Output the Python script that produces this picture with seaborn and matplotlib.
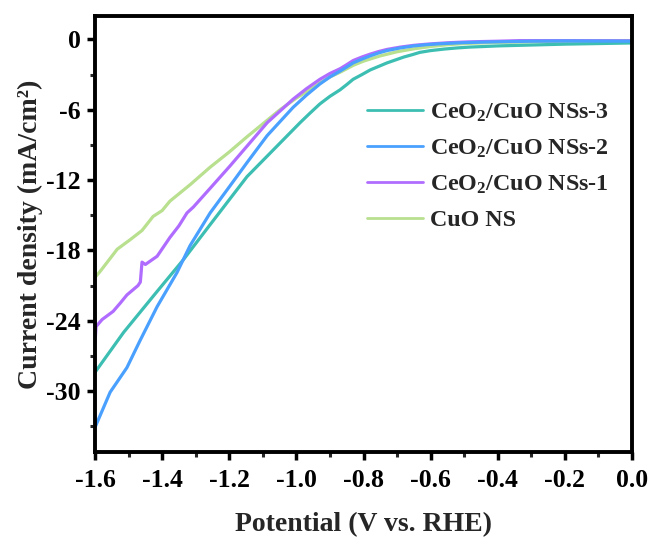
import numpy as np
import pandas as pd
import matplotlib
matplotlib.use("Agg")
import matplotlib.pyplot as plt
import seaborn as sns
from matplotlib.ticker import MultipleLocator

# ---- data ----
cuo_v = [-1.600, -1.585, -1.550, -1.534, -1.496, -1.460, -1.427, -1.400, -1.377, -1.347,
         -1.317, -1.257, -1.200, -1.147, -1.100, -1.049, -1.000, -0.950, -0.930, -0.900,
         -0.870, -0.830, -0.800, -0.750, -0.700, -0.650, -0.600, -0.550, -0.500, -0.400,
         -0.300, -0.200, -0.100, 0.000]
cuo_j = [-20.3, -19.8, -18.5, -17.9, -17.1, -16.3, -15.1, -14.6, -13.8, -13.1,
         -12.4, -10.9, -9.6, -8.3, -7.2, -6.0, -5.0, -4.1, -3.7, -3.2,
         -2.8, -2.2, -1.85, -1.4, -1.05, -0.8, -0.6, -0.45, -0.35, -0.25,
         -0.2, -0.15, -0.12, -0.1]

ns1_v = [-1.600, -1.597, -1.579, -1.546, -1.525, -1.505, -1.472, -1.465, -1.460, -1.450,
         -1.415, -1.377, -1.350, -1.326, -1.307, -1.257, -1.198, -1.147, -1.087, -1.010,
         -0.970, -0.930, -0.900, -0.870, -0.850, -0.831, -0.805, -0.780, -0.755, -0.730,
         -0.690, -0.650, -0.615, -0.581, -0.540, -0.500, -0.450, -0.400, -0.334, -0.200,
         0.000]
ns1_j = [-25.9, -24.5, -23.9, -23.2, -22.5, -21.8, -21.0, -20.7, -19.0, -19.2,
         -18.5, -16.9, -15.9, -14.8, -14.3, -12.7, -10.8, -9.1, -7.1, -5.1,
         -4.2, -3.4, -2.9, -2.5, -2.15, -1.8, -1.5, -1.25, -1.03, -0.85,
         -0.65, -0.5, -0.41, -0.34, -0.27, -0.22, -0.18, -0.15, -0.1, -0.1,
         -0.12]

ns2_v = [-1.600, -1.555, -1.505, -1.466, -1.415, -1.356, -1.317, -1.257, -1.198, -1.147,
         -1.087, -1.010, -0.970, -0.930, -0.900, -0.870, -0.850, -0.831, -0.805, -0.780,
         -0.755, -0.730, -0.690, -0.650, -0.615, -0.580, -0.540, -0.500, -0.450, -0.400,
         -0.300, -0.200, 0.000]
ns2_j = [-33.1, -30.1, -28.0, -25.7, -22.8, -19.9, -17.6, -14.8, -12.5, -10.5,
         -8.2, -5.8, -4.75, -3.8, -3.2, -2.7, -2.35, -2.0, -1.68, -1.4,
         -1.15, -0.95, -0.72, -0.55, -0.45, -0.38, -0.32, -0.27, -0.23, -0.2,
         -0.15, -0.13, -0.15]

ns3_v = [-1.600, -1.515, -1.415, -1.337, -1.257, -1.198, -1.147, -1.068, -0.989, -0.960,
         -0.930, -0.900, -0.870, -0.850, -0.831, -0.805, -0.780, -0.755, -0.730, -0.705,
         -0.680, -0.655, -0.632, -0.600, -0.560, -0.520, -0.483, -0.440, -0.400, -0.334,
         -0.200, -0.100, 0.000]
ns3_j = [-28.4, -25.0, -21.5, -18.8, -15.8, -13.6, -11.7, -9.4, -7.1, -6.3,
         -5.5, -4.85, -4.3, -3.85, -3.4, -3.0, -2.6, -2.3, -2.0, -1.75,
         -1.5, -1.3, -1.1, -0.95, -0.82, -0.72, -0.65, -0.6, -0.55, -0.5,
         -0.4, -0.35, -0.3]

labels = ["CuO NS", "CeO$_2$/CuO NSs-1", "CeO$_2$/CuO NSs-2", "CeO$_2$/CuO NSs-3"]
colors = ["#b8e08e", "#b06cff", "#4aa0ff", "#3cbfb2"]
series = [(cuo_v, cuo_j), (ns1_v, ns1_j), (ns2_v, ns2_j), (ns3_v, ns3_j)]

frames = []
for lab, (v, j) in zip(labels, series):
    frames.append(pd.DataFrame({"Potential": v, "Current": j, "Sample": lab}))
df = pd.concat(frames, ignore_index=True)

# ---- style ----
sns.set_theme(style="ticks")
plt.rcParams["font.family"] = ["Liberation Serif", "DejaVu Serif"]
plt.rcParams["font.weight"] = "bold"
plt.rcParams["axes.unicode_minus"] = False
plt.rcParams["mathtext.fontset"] = "custom"
plt.rcParams["mathtext.rm"] = "Liberation Serif:bold"
plt.rcParams["mathtext.bf"] = "Liberation Serif:bold"
plt.rcParams["mathtext.it"] = "Liberation Serif:bold"
plt.rcParams["mathtext.default"] = "bf"

fig = plt.figure(figsize=(6.54, 5.43), dpi=100)
ax = fig.add_axes([0.1453, 0.1676, 0.8211, 0.8029])

draw_order = ["CuO NS", "CeO$_2$/CuO NSs-1", "CeO$_2$/CuO NSs-3", "CeO$_2$/CuO NSs-2"]
pal = dict(zip(labels, colors))
sns.lineplot(data=df, x="Potential", y="Current", hue="Sample", hue_order=draw_order,
             palette=pal, estimator=None, sort=False, linewidth=2.3, ax=ax, legend=False)

ax.set_xlim(-1.6, 0.0)
ax.set_ylim(-35.2, 2.0)
ax.xaxis.set_minor_locator(MultipleLocator(0.1))
ax.yaxis.set_major_locator(MultipleLocator(6))
ax.yaxis.set_minor_locator(MultipleLocator(3))
xt = [-1.6, -1.4, -1.2, -1.0, -0.8, -0.6, -0.4, -0.2, 0.0]
ax.set_xticks(xt)
ax.set_xticklabels([f"{t:.1f}" for t in xt])

for side in ["left", "bottom", "right", "top"]:
    ax.spines[side].set_visible(True)
    ax.spines[side].set_linewidth(2.8)
    ax.spines[side].set_color("black")

ax.tick_params(axis="both", which="major", direction="out", length=5.5, width=2.5,
               labelsize=18.5, pad=5, colors="black")
ax.tick_params(axis="both", which="minor", direction="out", length=3.5, width=2.2)
ax.tick_params(axis="x", which="major", pad=7)
for lab in ax.get_xticklabels() + ax.get_yticklabels():
    lab.set_fontweight("bold")

ax.set_xlabel("Potential (V vs. RHE)", fontsize=20, fontweight="bold", labelpad=14)
ax.set_ylabel("Current density (mA/cm²)", fontsize=20, fontweight="bold", labelpad=2)

legend_order = ["CeO$_2$/CuO NSs-3", "CeO$_2$/CuO NSs-2", "CeO$_2$/CuO NSs-1", "CuO NS"]
handles = [plt.Line2D([], [], color=pal[l], linewidth=2.0) for l in legend_order]
leg = ax.legend(handles, legend_order, loc="upper left", bbox_to_anchor=(0.489, 0.826),
                frameon=False, fontsize=17.3, handlelength=2.33, handletextpad=0.3,
                labelspacing=0.57, borderaxespad=0)
for t in leg.get_texts():
    t.set_fontweight("bold")

fig.savefig("out.png", dpi=100)
